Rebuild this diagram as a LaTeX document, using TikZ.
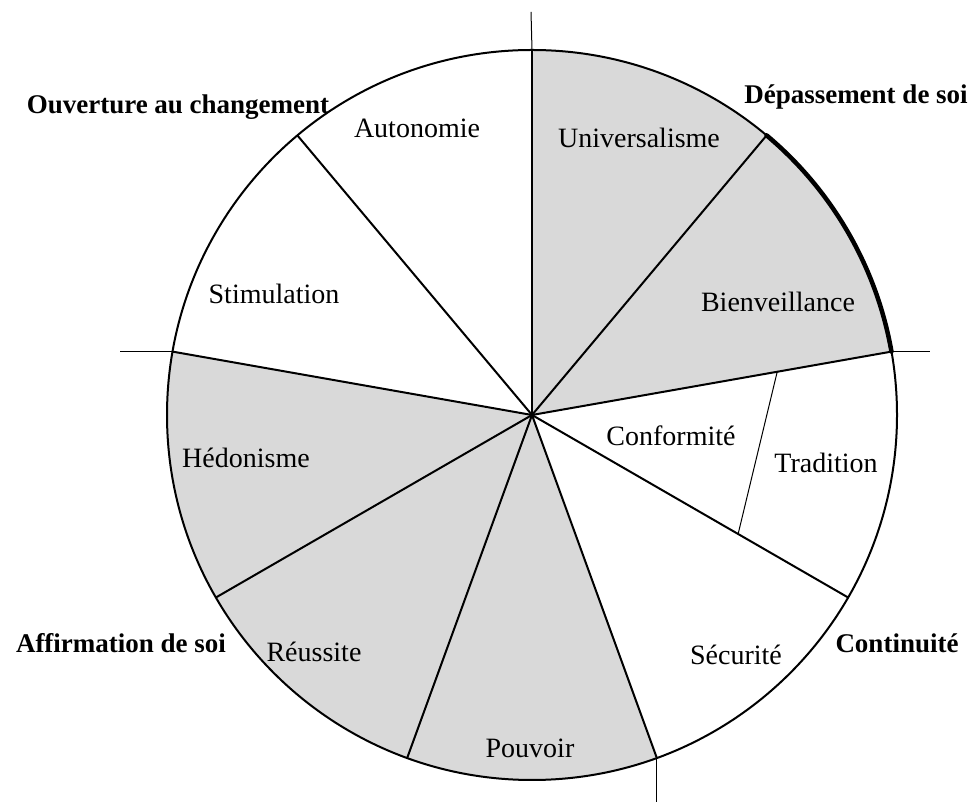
\documentclass[tikz,border=0pt]{standalone}
\usepackage{fontspec}
\setmainfont{Liberation Serif}
\definecolor{sectorgray}{HTML}{D9D9D9}
\begin{document}
\begin{tikzpicture}[x=1pt,y=1pt,
  sector/.style={fill=sectorgray},
  spoke/.style={draw=black,line width=2pt},
  rim/.style={draw=black,line width=2pt},
  thickarc/.style={draw=black,line width=4.5pt,line cap=round},
  tick/.style={draw=black,line width=1pt},
  divider/.style={draw=black,line width=1pt},
  val/.style={font=\fontsize{28}{32}\selectfont,inner sep=0pt},
  grp/.style={font=\fontsize{27}{31}\selectfont\bfseries,inner sep=0pt}]
\useasboundingbox (0,0) rectangle (976,802);
\coordinate (O) at (532,387);
\def\R{365}
\path (O) ++(90:\R) coordinate (pN);
\path (O) ++(50:\R) coordinate (pUB);
\path (O) ++(10:\R) coordinate (pBT);
\path (O) ++(-30:\R) coordinate (pTS);
\path (O) ++(-70:\R) coordinate (pSP);
\path (O) ++(-110:\R) coordinate (pPR);
\path (O) ++(-150:\R) coordinate (pRH);
\path (O) ++(170:\R) coordinate (pHS);
\path (O) ++(130:\R) coordinate (pSA);
\path (O) ++(10:249) coordinate (dA);
\path (O) ++(-30:238) coordinate (dB);
% shaded sectors
\fill[sector] (O) -- (pBT) arc[start angle=10,end angle=90,radius=\R] -- cycle;
\fill[sector] (O) -- (pHS) arc[start angle=170,end angle=290,radius=\R] -- cycle;
% circle
\draw[rim] (O) circle[radius=\R];
% spokes
\draw[spoke] (O) -- (pN);
\draw[spoke] (O) -- (pUB);
\draw[spoke] (O) -- (pBT);
\draw[spoke] (O) -- (pTS);
\draw[spoke] (O) -- (pSP);
\draw[spoke] (O) -- (pPR);
\draw[spoke] (O) -- (pRH);
\draw[spoke] (O) -- (pHS);
\draw[spoke] (O) -- (pSA);
% divider conformite / tradition
\draw[divider] (dA) -- (dB);
% thick arc
\draw[thickarc] (pUB) arc[start angle=50,end angle=10,radius=\R];
% ticks
\coordinate (tN) at (531,790);
\coordinate (tE) at (930,450);
\coordinate (tW) at (120,454);
\coordinate (tS) at (655,0);
\draw[tick] (pN) -- (tN);
\draw[tick] (pBT) -- (tE |- pBT);
\draw[tick] (pHS) -- (tW |- pHS);
\draw[tick] (pSP) -- (tS -| pSP);
% value labels
\node[val] (autonomie) at (417,674) {Autonomie};
\node[val] (universalisme) at (639,664) {Universalisme};
\node[val] (stimulation) at (274,508) {Stimulation};
\node[val] (bienveillance) at (778,500) {Bienveillance};
\node[val] (hedonisme) at (246,344) {Hédonisme};
\node[val] (conformite) at (671,366) {Conformité};
\node[val] (tradition) at (826,339) {Tradition};
\node[val] (reussite) at (314,150) {Réussite};
\node[val] (securite) at (736,147) {Sécurité};
\node[val] (pouvoir) at (530,54) {Pouvoir};
% group labels
\node[grp] (ouverture) at (178,695) {Ouverture au changement};
\node[grp] (depassement) at (856,705) {Dépassement de soi};
\node[grp] (affirmation) at (121,159) {Affirmation de soi};
\node[grp] (continuite) at (897,159) {Continuité};
\end{tikzpicture}
\end{document}
